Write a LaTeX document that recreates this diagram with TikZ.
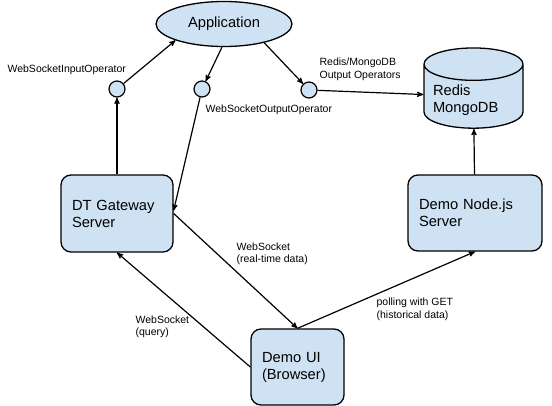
\documentclass[tikz,border=0pt]{standalone}
\usepackage{fontspec}
\setmainfont{Liberation Sans}
\usepackage{xcolor}
\usepackage{tikz}
\usetikzlibrary{shapes}
\usetikzlibrary{arrows}
\definecolor{boxblue}{HTML}{CFE2F3}
\definecolor{capblue}{HTML}{E2EDF8}
\tikzset{
	main node/.style={draw,fill=boxblue,line width=1.3pt,font=\fontsize{14.7}{17}\selectfont},
	box node/.style={main node,rounded corners=10pt,inner sep=0pt,align=left},
	op node/.style={circle,draw,fill=boxblue,line width=1.2pt,minimum size=16pt,inner sep=0pt},
	db node/.style={main node,cylinder,shape border rotate=90,aspect=0.4,
		cylinder uses custom fill,cylinder body fill=boxblue,cylinder end fill=capblue,
		inner sep=0pt,align=left},
	note/.style={font=\fontsize{10.5}{12.5}\selectfont,align=left,anchor=west,inner sep=0pt}
}

\begin{document}
\begin{tikzpicture}[x=1pt,y=-1pt,->,>=stealth',line width=1.2pt]
	\useasboundingbox (0,0) rectangle (552,406);
	% application and its operators
	\node [main node,ellipse,minimum width=136pt,minimum height=45pt,inner sep=0pt] (app) at (224,24) {Application};
	\node [op node] (inop) at (117,89) {};
	\node [op node] (outop) at (202,89) {};
	\node [op node] (dbop) at (309,90) {};
	\node [db node,minimum width=99pt,minimum height=61pt,text width=81pt,text height=15pt,text depth=16pt] (db) at (473.5,96.5) {Redis\\MongoDB};
	% servers and browser
	\node [box node,minimum width=112pt,minimum height=77pt,text width=90pt] (gw) at (117,213.5) {DT Gateway\\Server};
	\node [box node,minimum width=134pt,minimum height=76pt,text width=112pt] (nodejs) at (475,213) {Demo Node.js\\Server};
	\node [box node,minimum width=93pt,minimum height=76pt,text width=71pt] (ui) at (297.5,367) {Demo UI\\(Browser)};
	% labels
	\node [note] (l1) at (7,70) {WebSocketInputOperator};
	\node [note] (l2) at (205,110) {WebSocketOutputOperator};
	\node [note] (l3) at (319,69.5) {Redis/MongoDB\\Output Operators};
	\node [note] (l4) at (236,254) {WebSocket\\(real-time data)};
	\node [note] (l5) at (376,309.5) {polling with GET\\(historical data)};
	\node [note] (l6) at (135,327) {WebSocket\\(query)};
	% connectors
	\draw (inop) -- (app.south west);
	\draw (app.-95) -- (outop);
	\draw (app.-25) -- (dbop);
	\draw (dbop) -- (db);
	\draw (gw) -- (inop);
	\draw (outop) -- (gw.3);
	\draw (gw.east) -- (ui.north);
	\draw (ui.north) -- (nodejs.south);
	\draw (ui.west) -- (gw.south);
	\draw (nodejs) -- (db);
\end{tikzpicture}
\end{document}
